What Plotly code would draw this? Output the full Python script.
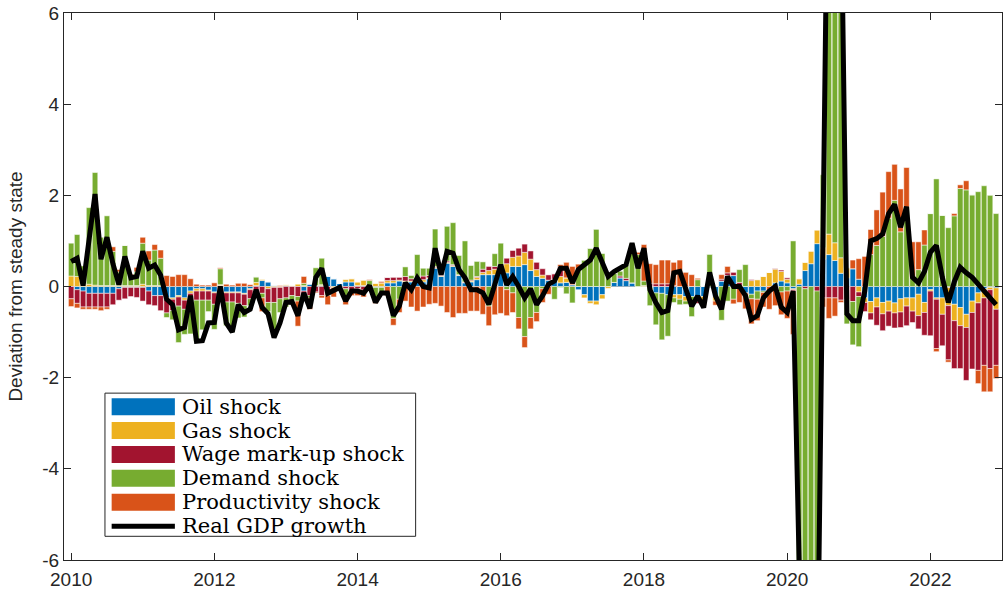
import plotly.graph_objects as go

# monthly historical decomposition, Jan 2010 - Dec 2022
oil = [0.0, -0.07, -0.10, -0.15, -0.15, -0.15, -0.15, -0.15, -0.05, -0.02,
       -0.02, -0.02, -0.02, -0.10, -0.20, -0.20, -0.25, -0.25, -0.20, -0.25,
       -0.10, -0.05, -0.05, -0.08, -0.12, 0.02, -0.12, -0.12, -0.12, -0.15,
       -0.05, 0.02, 0.13, 0.10, 0.02, 0.00, 0.02, 0.00, 0.00, -0.10,
       0.05, 0.02, 0.02, 0.22, 0.17, 0.07, 0.10, 0.10, 0.02, 0.02,
       -0.05, -0.02, -0.02, 0.08, 0.08, 0.12, 0.10, 0.10, 0.10, 0.10,
       0.17, 0.40, 0.22, 0.51, 0.44, 0.24, 0.08, 0.10, 0.15, 0.26,
       0.26, 0.26, 0.31, 0.30, 0.44, 0.44, 0.48, 0.35, 0.22, 0.18,
       0.14, 0.14, 0.08, 0.09, 0.04, -0.07, -0.18, -0.32, -0.32, -0.18,
       0.00, 0.09, 0.19, 0.13, 0.08, 0.00, 0.00, -0.02, -0.14, -0.15,
       -0.18, -0.18, -0.18, -0.22, -0.22, -0.22, -0.22, -0.02, -0.22, 0.12,
       0.24, 0.24, 0.00, -0.14, -0.17, -0.10, -0.10, 0.00, 0.08, 0.12,
       0.08, -0.05, 0.05, 0.35, 0.50, 0.94, 0.60, 0.70, 0.57, 0.29,
       0.19, 0.39, 0.16, -0.25, -0.33, -0.25, -0.35, -0.32, -0.36, -0.27,
       -0.25, -0.25, -0.17, -0.35, -0.07, -0.25, -0.25, -0.02, -0.39, -0.46,
       -0.61, -0.32, -0.14, -0.05, -0.02, -0.03]
gas = [0.23, 0.22, 0.05, 0.05, 0.03, 0.02, 0.02, 0.02, 0.02, 0.02,
       0.02, 0.02, 0.05, 0.02, 0.02, 0.02, -0.03, -0.03, -0.03, -0.05,
       -0.05, -0.05, -0.05, -0.02, -0.02, 0.02, -0.02, -0.02, -0.02, -0.02,
       -0.02, 0.07, 0.02, -0.05, -0.02, -0.02, 0.02, 0.02, 0.05, 0.02,
       0.00, 0.00, 0.02, 0.00, -0.03, 0.00, 0.05, 0.07, 0.08, 0.12,
       0.03, 0.07, 0.08, 0.05, 0.05, 0.02, 0.02, 0.02, 0.02, 0.05,
       0.02, 0.02, 0.02, 0.02, 0.02, 0.01, 0.01, 0.02, 0.05, 0.05,
       0.09, 0.12, 0.12, 0.20, 0.20, 0.23, 0.27, 0.25, 0.15, 0.07,
       0.00, 0.02, 0.14, 0.10, 0.00, 0.00, -0.07, -0.05, -0.08, -0.09,
       -0.04, 0.00, 0.00, 0.00, 0.00, 0.00, 0.02, 0.00, 0.00, 0.00,
       0.00, -0.07, -0.10, -0.10, 0.00, -0.10, -0.14, 0.00, -0.10, 0.00,
       0.00, 0.00, 0.00, 0.00, 0.13, 0.15, 0.22, 0.31, 0.30, 0.21,
       0.08, -0.02, 0.12, 0.18, 0.28, 0.30, 0.25, 0.45, 0.39, 0.34,
       0.22, 0.00, -0.12, -0.10, -0.25, -0.20, -0.25, -0.22, -0.22, -0.29,
       -0.18, -0.29, -0.47, -0.22, -0.03, -0.03, -0.36, -0.40, -0.36, -0.40,
       -0.29, -0.25, -0.22, -0.20, -0.05, -0.47]
wage = [-0.27, -0.30, -0.35, -0.30, -0.30, -0.30, -0.30, -0.25, -0.25, -0.25,
        -0.20, -0.22, -0.30, -0.30, -0.22, -0.33, -0.30, -0.25, -0.20, -0.20,
        -0.25, -0.20, -0.20, -0.20, -0.25, -0.12, -0.20, -0.20, -0.23, -0.25,
        -0.20, -0.10, -0.15, -0.30, -0.33, -0.25, -0.25, -0.20, -0.22, -0.15,
        -0.20, -0.12, -0.20, -0.10, 0.00, 0.00, -0.05, -0.10, -0.05, -0.08,
        0.00, 0.00, 0.00, 0.07, 0.07, 0.06, 0.10, 0.05, 0.08, 0.08,
        0.05, 0.02, 0.02, 0.03, 0.02, 0.01, 0.01, 0.02, 0.02, 0.07,
        0.09, 0.06, 0.05, 0.12, 0.15, 0.17, 0.18, 0.18, 0.16, 0.14,
        0.12, 0.12, 0.22, 0.00, 0.00, 0.00, 0.00, 0.00, 0.00, 0.00,
        0.00, 0.00, 0.04, 0.05, 0.00, 0.00, 0.00, 0.07, 0.06, 0.06,
        0.06, 0.02, 0.00, 0.00, 0.00, -0.05, 0.00, 0.00, 0.00, 0.04,
        0.06, 0.07, 0.09, 0.00, 0.02, 0.00, 0.00, 0.00, 0.02, 0.03,
        0.03, -0.03, 0.00, -0.05, 0.00, -0.10, -0.25, -0.25, -0.25, -0.30,
        -0.29, -0.33, -0.10, -0.20, -0.15, -0.40, -0.37, -0.33, -0.33, -0.34,
        -0.43, -0.25, -0.29, -0.50, -0.98, -1.08, -0.69, -1.19, -1.05, -0.94,
        -1.16, -1.24, -1.48, -1.48, -1.73, -1.23]
demand = [0.72, 0.92, 0.40, 1.68, 2.47, 1.06, 1.53, 0.75, 0.30, 0.88,
          0.20, 0.30, 0.90, 0.56, 0.78, 0.60, -0.10, -0.20, -0.80, -0.55,
          -0.64, -0.90, -0.65, -0.25, -0.55, 0.35, -0.52, -0.66, -0.32, -0.25,
          -0.15, 0.12, -0.10, -0.20, -0.60, -0.30, -0.20, -0.20, -0.10, 0.05,
          -0.05, 0.39, 0.58, -0.10, 0.00, 0.00, -0.25, 0.00, 0.00, 0.00,
          0.10, -0.30, -0.12, 0.00, -0.70, -0.28, 0.21, 0.07, 0.50, 0.17,
          0.16, 0.82, 0.10, 0.76, 0.92, 0.42, 0.90, 0.32, 0.33, 0.16,
          -0.43, 0.28, 0.47, -0.07, -0.14, -0.68, -1.10, -0.68, -0.57, -0.05,
          0.00, -0.28, -0.02, -0.16, -0.36, 0.36, 0.58, 0.84, 1.26, 0.73,
          0.22, 0.20, 0.11, 0.30, 0.87, 0.70, 0.10, -0.40, -0.70, -1.02,
          -0.91, -0.10, -0.12, -0.07, -0.44, 0.15, 0.00, 0.71, 0.00, -0.74,
          -0.32, -0.28, 0.28, 0.48, -0.10, -0.18, -0.03, 0.00, 0.00, -0.12,
          -0.10, 1.00, -7.00, -12.0, -12.5, -9.00, 1.60, 11.0, 11.5, 8.50,
          -0.53, -0.95, -1.10, 0.00, 0.70, 0.90, 1.10, 1.50, 1.89, 1.20,
          1.74, 0.20, 0.37, 0.91, 1.60, 2.36, 1.56, 1.29, 1.55, 2.15,
          2.12, 2.01, 2.08, 2.21, 2.00, 1.60]
productivity = [-0.17, -0.10, -0.05, -0.05, -0.05, -0.08, -0.05, 0.10, 0.05, 0.00,
                0.05, 0.10, 0.13, 0.20, 0.12, 0.18, 0.24, 0.22, 0.26, 0.26,
                0.17, 0.05, 0.03, 0.03, 0.08, 0.02, 0.05, 0.03, 0.07, 0.07,
                0.04, 0.00, -0.30, 0.00, 0.00, 0.02, 0.00, 0.00, -0.55, 0.15,
                -0.25, -0.02, -0.05, -0.20, -0.20, -0.05, -0.10, -0.10, -0.15, -0.15,
                0.02, -0.05, 0.03, -0.20, -0.15, -0.29, -0.32, -0.45, -0.54, -0.45,
                -0.39, -0.37, -0.43, -0.57, -0.68, -0.59, -0.59, -0.54, -0.54, -0.61,
                -0.43, -0.62, -0.59, -0.57, -0.43, -0.25, -0.24, -0.25, -0.20, -0.30,
                -0.17, 0.00, 0.04, 0.34, 0.40, 0.13, 0.00, 0.00, 0.00, 0.00,
                0.00, 0.00, 0.00, 0.00, 0.00, 0.05, 0.80, 0.43, 0.42, 0.52,
                0.52, 0.51, 0.58, 0.31, 0.26, 0.03, -0.05, 0.00, -0.09, 0.10,
                0.14, -0.10, -0.35, -0.35, -0.55, -0.47, -0.32, -0.50, -0.42, -0.50,
                -0.60, -0.95, -0.30, 0.00, 0.00, 0.00, -0.20, -0.45, -0.40, -0.05,
                0.00, 0.19, 0.45, 0.66, 0.55, 0.78, 0.97, 1.02, 0.79, 0.94,
                0.87, 0.78, 0.61, 0.33, 0.00, -0.07, 0.00, -0.05, 0.05, 0.08,
                0.20, 0.00, -0.29, -0.58, -0.51, -0.29]
gdp = [0.55, 0.62, 0.02, 1.10, 2.03, 0.60, 1.08, 0.50, 0.04, 0.66,
       0.19, 0.22, 0.77, 0.40, 0.47, 0.25, -0.28, -0.40, -0.95, -0.90,
       -0.20, -1.20, -1.19, -0.80, -0.79, 0.00, -0.80, -1.00, -0.40, -0.57,
       -0.50, -0.07, -0.46, -0.60, -1.12, -0.80, -0.35, -0.33, -0.64, -0.14,
       -0.48, 0.20, 0.40, -0.15, -0.07, -0.02, -0.32, -0.10, -0.10, -0.15,
       0.02, -0.35, -0.14, -0.14, -0.64, -0.43, 0.08, -0.07, 0.19, 0.00,
       -0.03, 0.84, 0.26, 0.77, 0.73, 0.37, 0.19, -0.07, -0.07, -0.14,
       -0.39, 0.08, 0.48, 0.04, 0.22, 0.00, -0.25, -0.05, -0.40, -0.20,
       0.05, 0.12, 0.40, 0.40, 0.08, 0.37, 0.48, 0.58, 0.84, 0.51,
       0.22, 0.33, 0.40, 0.48, 0.95, 0.40, 0.84, -0.07, -0.36, -0.57,
       -0.53, 0.30, 0.33, -0.07, -0.43, -0.21, -0.46, 0.31, -0.21, -0.50,
       0.22, 0.00, 0.00, -0.20, -0.72, -0.64, -0.25, -0.10, 0.00, -0.45,
       -0.57, -0.10, -5.50, -12.0, -11.5, -9.50, 2.20, 11.7, 12.0, 9.00,
       -0.60, -0.75, -0.75, -0.10, 1.00, 1.05, 1.15, 1.60, 1.80, 1.30,
       1.75, 0.20, 0.08, 0.33, 0.75, 0.90, 0.20, -0.35, 0.10, 0.42,
       0.30, 0.20, 0.05, -0.10, -0.22, -0.40]

names = ["Oil shock", "Gas shock", "Wage mark-up shock", "Demand shock", "Productivity shock"]
colors = ["#0072BD", "#EDB120", "#A2142F", "#77AC30", "#D95319"]
series = [oil, gas, wage, demand, productivity]

months = [2010 + m / 12 for m in range(len(gdp))]

fig = go.Figure()
for name, col, vals in zip(names, colors, series):
    fig.add_trace(go.Bar(x=months, y=vals, name=name, marker_color=col,
                         marker_line=dict(color="white", width=0.5), showlegend=False))
fig.add_trace(go.Scatter(x=months, y=gdp, name="Real GDP growth", mode="lines",
                         line=dict(color="black", width=5), showlegend=False))


# legend drawn by hand so the swatches get MATLAB's wide patches
# (page pixels; the plot area spans x 64..1003, y 10..564)
def px_x(p):
    return (p - 64) / 939


def px_y(p):
    return (564 - p) / 554


fig.add_shape(type="rect", xref="paper", yref="paper", layer="above",
              x0=px_x(105), x1=px_x(416), y0=px_y(540), y1=px_y(395),
              line=dict(color="#262626", width=1), fillcolor="white")
for i, label in enumerate(names + ["Real GDP growth"]):
    yc = 408.7 + 24.2 * i
    if i < 5:
        fig.add_shape(type="rect", xref="paper", yref="paper", layer="above",
                      x0=px_x(111.7), x1=px_x(175), y0=px_y(yc + 8.6), y1=px_y(yc - 8.6),
                      line=dict(width=0), fillcolor=colors[i])
    else:
        fig.add_shape(type="line", xref="paper", yref="paper", layer="above",
                      x0=px_x(111.7), x1=px_x(175), y0=px_y(yc), y1=px_y(yc),
                      line=dict(color="black", width=5))
    fig.add_annotation(x=px_x(180), y=px_y(yc), xref="paper", yref="paper",
                       text=label, showarrow=False, xanchor="left", yanchor="middle",
                       font=dict(family="DejaVu Serif", size=21, color="black"))

tick_font = dict(family="Liberation Sans, Arial, sans-serif", size=19, color="#262626")
fig.update_layout(
    width=1006, height=593,
    margin=dict(l=64, r=3, t=10, b=29),
    paper_bgcolor="white", plot_bgcolor="white",
    barmode="relative", bargap=0.08,
    xaxis=dict(range=[2009.9, 2023.0], tickvals=list(range(2010, 2023, 2)),
               ticktext=[str(y) for y in range(2010, 2023, 2)],
               ticks="inside", ticklen=7, tickcolor="#262626", ticklabelstandoff=2,
               ticklabeloverflow="allow",
               showline=True, linecolor="#262626", linewidth=1, mirror="ticks",
               showgrid=False, zeroline=False, tickfont=tick_font),
    yaxis=dict(range=[-6, 6], tickvals=[-6, -4, -2, 0, 2, 4, 6],
               ticktext=["-6", "-4", "-2", "0", "2", "4", "6"],
               ticks="inside", ticklen=7, tickcolor="#262626",
               ticklabeloverflow="allow",
               showline=True, linecolor="#262626", linewidth=1, mirror="ticks",
               showgrid=False, zeroline=True, zerolinecolor="#555555", zerolinewidth=1,
               tickfont=tick_font,
               title=dict(text="Deviation from steady state", standoff=14,
                          font=dict(family="Liberation Sans, Arial, sans-serif",
                                    size=19, color="#262626"))),
)

# drop the page's default body margin so the figure fills the window exactly
fig.write_html("out.html", config={"displayModeBar": False},
               post_script="document.body.style.margin = '0px';")
